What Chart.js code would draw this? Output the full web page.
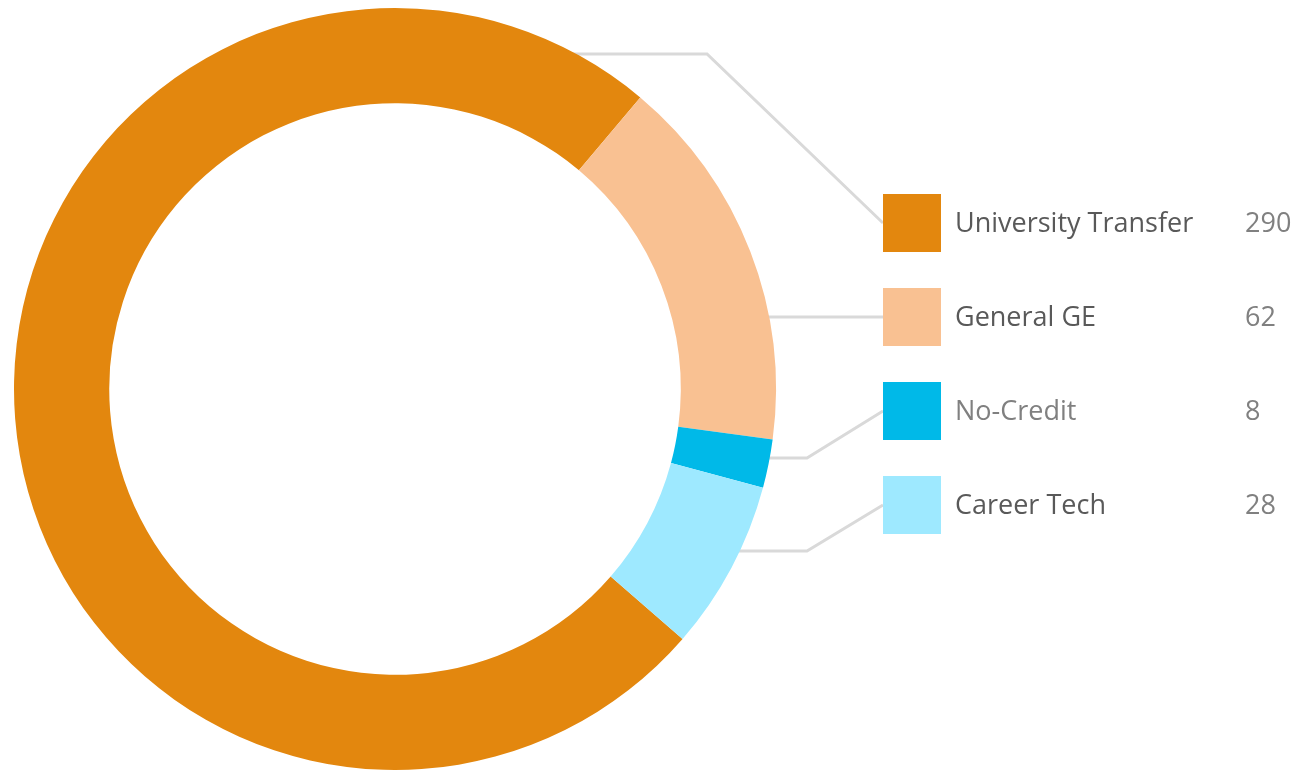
<!DOCTYPE html>
<html>
<head>
<meta charset="utf-8">
<script src="https://cdn.jsdelivr.net/npm/chart.js@4"></script>
<style>
  html, body { margin: 0; padding: 0; background: #fff; }
  #wrap { width: 1299px; height: 770px; }
</style>
</head>
<body>
<div id="wrap"><canvas id="donut"></canvas></div>
<script>
const categories = ['University Transfer', 'General GE', 'No-Credit', 'Career Tech'];
const counts = [290, 62, 8, 28];
const colors = ['#E3870E', '#F9C192', '#00B9E8', '#9EE9FF'];
const labelColors = ['#595959', '#595959', '#808080', '#595959'];

// legend + leader line layout
const legendX = 883, legendTop = 194, legendStep = 94, boxSize = 58;
const labelX = 955, valueX = 1245;
// elbow of each leader line (y of the horizontal run, x where it turns)
const leaderY = [54, 317, 458, 551];
const leaderElbowX = [707, 883, 807, 807];

const leaderPlugin = {
  id: 'leaders',
  beforeDatasetsDraw(chart) {
    const arc = chart.getDatasetMeta(0).data[0];
    const { x: cx, y: cy, innerRadius, outerRadius } = arc.getProps(['x', 'y', 'innerRadius', 'outerRadius'], true);
    const midR = (innerRadius + outerRadius) / 2;
    const ctx = chart.ctx;
    ctx.save();
    ctx.strokeStyle = '#D9D9D9';
    ctx.lineWidth = 3;
    categories.forEach((c, i) => {
      const y = leaderY[i];
      const dy = y - cy;
      const startX = cx + Math.sqrt(Math.max(midR * midR - dy * dy, 0));
      const boxMid = legendTop + i * legendStep + boxSize / 2;
      ctx.beginPath();
      ctx.moveTo(startX, y);
      ctx.lineTo(leaderElbowX[i], y);
      ctx.lineTo(legendX, boxMid);
      ctx.stroke();
    });
    ctx.restore();
  },
  afterDraw(chart) {
    const ctx = chart.ctx;
    ctx.save();
    ctx.font = '27px "Open Sans", sans-serif';
    ctx.textBaseline = 'middle';
    categories.forEach((c, i) => {
      const top = legendTop + i * legendStep;
      ctx.fillStyle = colors[i];
      ctx.fillRect(legendX, top, boxSize, boxSize);
      ctx.fillStyle = labelColors[i];
      ctx.fillText(c, labelX, top + boxSize / 2 + 1);
      ctx.fillStyle = '#808080';
      ctx.fillText(String(counts[i]), valueX, top + boxSize / 2 + 1);
    });
    ctx.restore();
  }
};

new Chart(document.getElementById('donut'), {
  type: 'doughnut',
  data: {
    labels: categories,
    datasets: [{
      data: counts,
      backgroundColor: colors,
      borderWidth: 0
    }]
  },
  options: {
    responsive: true,
    maintainAspectRatio: false,
    animation: false,
    cutout: '75%',
    rotation: 131,
    layout: { padding: { left: 14, right: 523, top: 8, bottom: 0 } },
    plugins: {
      legend: { display: false },
      tooltip: { enabled: false }
    }
  },
  plugins: [leaderPlugin]
});
</script>
</body>
</html>
